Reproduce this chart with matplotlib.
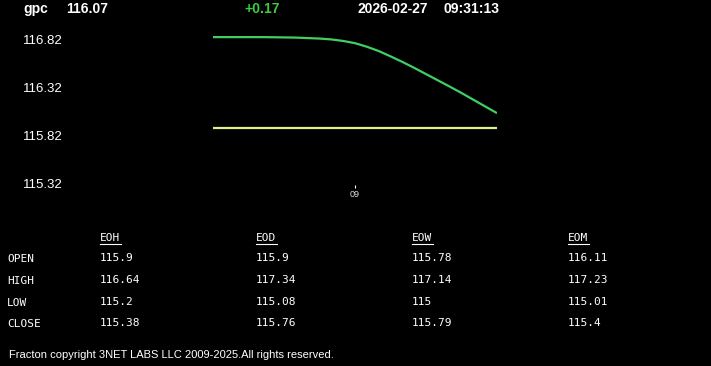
import numpy as np
import matplotlib
matplotlib.use("Agg")
import matplotlib.pyplot as plt
from matplotlib.lines import Line2D

# header
symbol = "gpc"
last_price = "116.07"
change = "+0.17"
date_str = "2026-02-27"
time_str = "09:31:13"

# intraday line (minutes into the window) and the open level
minutes = [0, 2.5, 5, 7.5, 10, 12.5, 15, 17.5, 20, 22.5, 25, 27.5, 30, 32.5,
           35, 37.5, 40, 42.5, 45, 47.5, 50, 52.5, 55, 57.5, 60]
prices = [116.85, 116.85, 116.85, 116.85, 116.85, 116.849, 116.847, 116.845,
          116.84, 116.835, 116.826, 116.81, 116.787, 116.75, 116.705, 116.65,
          116.592, 116.53, 116.465, 116.4, 116.335, 116.268, 116.198, 116.128,
          116.058]
open_level = 115.9

y_ticks = [116.82, 116.32, 115.82, 115.32]
x_ticks = [30]
x_tick_labels = ["09"]

# summary table
col_names = ["EOH", "EOD", "EOW", "EOM"]
row_names = ["OPEN", "HIGH", "LOW", "CLOSE"]
table_vals = [
    ["115.9", "115.9", "115.78", "116.11"],
    ["116.64", "117.34", "117.14", "117.23"],
    ["115.2", "115.08", "115", "115.01"],
    ["115.38", "115.76", "115.79", "115.4"],
]
footer = "Fracton copyright 3NET LABS LLC 2009-2025.All rights reserved."

W, H = 711, 366
fig = plt.figure(figsize=(W / 100, H / 100), dpi=100, facecolor="black")


def fx(px):
    return px / W


def fy(py):
    return 1 - py / H


# chart area
ax_left, ax_right, ax_top, ax_bot = 213, 497, 28, 185
ax = fig.add_axes([fx(ax_left), fy(ax_bot), fx(ax_right - ax_left), (ax_bot - ax_top) / H])
ax.set_facecolor("black")
for s in ax.spines.values():
    s.set_visible(False)

ax.plot(minutes, prices, color="#3fcf62", lw=1.6, solid_capstyle="butt")
ax.plot([minutes[0], minutes[-1]], [open_level, open_level], color="#e2ee86", lw=1.6,
        solid_capstyle="butt")

px_per_unit = 96.0
ax.set_xlim(0, 60)
ax.set_ylim(116.82 - (ax_bot - 40) / px_per_unit, 116.82 + (40 - ax_top) / px_per_unit)

ax.set_yticks(y_ticks)
ax.set_yticklabels([f"{v:.2f}" for v in y_ticks])
ax.tick_params(axis="y", length=0, pad=108, labelsize=9.5, labelcolor="white")
ax.set_xticks(x_ticks)
ax.set_xticklabels(x_tick_labels)
ax.tick_params(axis="x", direction="out", length=2.2, width=0.8, color="white",
               pad=1.5, labelsize=6.5, labelcolor="#dddddd")
for lab in ax.get_yticklabels():
    lab.set_fontfamily("Liberation Sans")
for lab in ax.get_xticklabels():
    lab.set_fontfamily("Liberation Sans")

# header line
hdr = dict(fontsize=10, fontweight="bold", family="Liberation Sans", va="center", ha="left")
fig.text(fx(23), fy(9), symbol, color="white", **hdr)
fig.text(fx(66), fy(9), last_price, color="white", **hdr)
fig.text(fx(244), fy(9), change, color="#3ccc3c", **hdr)
fig.text(fx(357), fy(9), date_str, color="white", **hdr)
fig.text(fx(443), fy(9), time_str, color="white", **hdr)

# table
mono = dict(fontsize=8, family="DejaVu Sans Mono", color="white", va="center", ha="left")
col_x = [100, 256, 412, 568]
row_y = [259, 281, 303, 324]
for cx, name in zip(col_x, col_names):
    fig.text(fx(cx), fy(238), name, **mono)
    fig.lines.append(Line2D([fx(cx), fx(cx + 21)], [fy(243.5), fy(243.5)],
                            transform=fig.transFigure, color="white", lw=0.8))
for ry, rname, vals in zip(row_y, row_names, table_vals):
    fig.text(fx(7), fy(ry), rname, **mono)
    for cx, v in zip(col_x, vals):
        fig.text(fx(cx), fy(ry - 1), v, **mono)

fig.text(fx(9), fy(355), footer, fontsize=8, family="Liberation Sans", color="white",
         va="center", ha="left")

fig.savefig("out.png", dpi=100, facecolor="black")
